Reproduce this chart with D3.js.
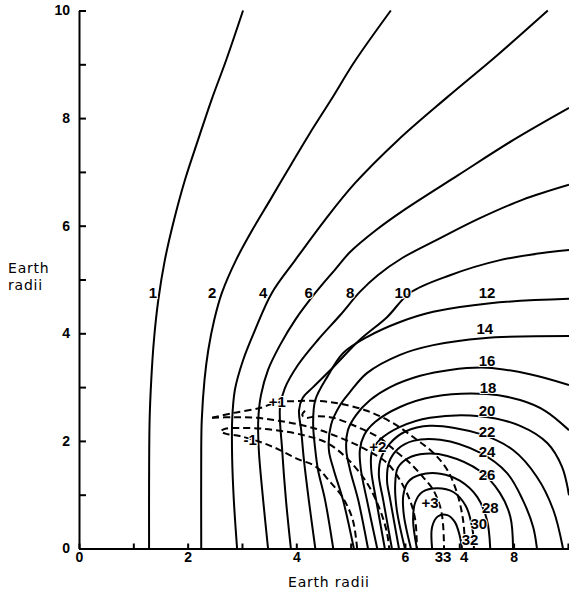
<!DOCTYPE html>
<html>
<head>
<meta charset="utf-8">
<script src="https://cdn.jsdelivr.net/npm/d3@7"></script>
<style>
  body { margin: 0; background: #fff; }
  svg { display: block; }
</style>
</head>
<body>
<svg id="chart" width="569" height="595"></svg>
<script>
// Field-line traces, each point is [radial distance, height] in Earth radii.
const line1  = [[1.29,0],[1.29,1.20],[1.30,2.39],[1.33,3.13],[1.38,3.88],[1.46,4.62],[1.58,5.36],[1.75,6.11],[1.95,6.85],[2.19,7.59],[2.44,8.34],[2.71,9.08],[3.02,10.0]];
const line2  = [[2.25,0],[2.25,1.83],[2.26,2.39],[2.31,3.13],[2.38,3.69],[2.49,4.25],[2.63,4.75],[2.89,5.36],[3.19,5.92],[3.52,6.48],[3.90,7.13],[4.25,7.72],[4.64,8.34],[5.08,9.06],[5.74,10.0]];
const line4  = [[2.91,0],[2.85,0.90],[2.82,1.65],[2.82,2.39],[2.87,2.95],[3.02,3.50],[3.24,4.06],[3.55,4.75],[3.98,5.36],[4.53,6.11],[5.08,6.79],[5.87,7.59],[6.78,8.39],[7.70,9.17],[8.63,10.0]];
const line6  = [[3.48,0],[3.39,0.90],[3.31,1.83],[3.30,2.39],[3.35,2.85],[3.48,3.32],[3.70,3.78],[3.98,4.25],[4.35,4.75],[4.71,5.18],[4.99,5.51],[5.47,5.92],[5.98,6.29],[6.98,6.94],[7.99,7.59],[9.02,8.19]];
const line8  = [[3.90,0],[3.81,0.90],[3.74,1.83],[3.70,2.63],[3.79,2.98],[4.03,3.41],[4.40,3.88],[4.81,4.34],[5.17,4.77],[5.50,5.08],[5.95,5.40],[6.65,5.77],[7.38,6.14],[8.16,6.48],[9.02,6.76]];
const line10 = [[4.35,0],[4.23,0.90],[4.14,1.65],[4.09,2.20],[4.05,2.57],[4.12,2.80],[4.31,3.00],[4.68,3.37],[5.17,3.88],[5.67,4.30],[6.09,4.75],[6.83,5.08],[7.75,5.36],[8.67,5.51],[9.02,5.55]];
const line12 = [[4.68,0],[4.53,0.90],[4.40,1.46],[4.35,1.83],[4.31,2.33],[4.35,2.76],[4.57,3.19],[4.86,3.63],[5.30,3.93],[5.91,4.21],[6.52,4.40],[7.57,4.56],[9.02,4.64]];
const line14 = [[5.06,0],[4.86,0.90],[4.69,1.46],[4.60,1.83],[4.64,2.30],[4.81,2.67],[4.99,2.91],[5.30,3.26],[5.91,3.60],[6.52,3.78],[7.44,3.91],[9.02,3.95]];
const line16 = [[5.32,0],[5.14,0.90],[4.99,1.46],[4.92,1.83],[4.95,2.20],[5.10,2.48],[5.36,2.76],[5.73,3.00],[6.28,3.21],[6.83,3.32],[7.51,3.36],[8.30,3.24],[9.02,3.04]];
const line18 = [[5.49,0],[5.30,0.90],[5.19,1.46],[5.17,1.83],[5.25,2.11],[5.45,2.35],[5.91,2.63],[6.52,2.82],[7.51,2.87],[8.12,2.76],[8.58,2.56],[9.02,2.20]];
const line20 = [[5.63,0],[5.47,0.90],[5.38,1.46],[5.39,1.79],[5.54,2.02],[5.91,2.26],[6.46,2.43],[7.38,2.46],[8.12,2.28],[8.62,1.96],[8.89,1.52],[9.02,0.99]];
const line22 = [[5.76,0],[5.60,0.90],[5.52,1.37],[5.56,1.68],[5.73,1.96],[6.00,2.17],[6.46,2.28],[7.38,2.13],[7.99,1.83],[8.43,1.33],[8.73,0.72],[8.91,0]];
const line24 = [[5.89,0],[5.73,0.90],[5.67,1.27],[5.71,1.61],[5.87,1.85],[6.15,2.00],[6.65,2.02],[7.38,1.78],[7.88,1.40],[8.17,0.90],[8.36,0.40],[8.43,0]];
const line26 = [[6.00,0],[5.85,0.72],[5.82,1.18],[5.87,1.50],[6.06,1.68],[6.37,1.76],[6.78,1.72],[7.38,1.44],[7.75,1.03],[7.94,0.59],[7.99,0]];
const line28 = [[6.11,0],[5.98,0.62],[5.97,0.99],[6.06,1.24],[6.28,1.37],[6.65,1.39],[7.01,1.26],[7.33,0.96],[7.51,0.53],[7.57,0]];
const line30 = [[6.22,0],[6.15,0.53],[6.19,0.86],[6.32,1.05],[6.59,1.12],[6.89,1.05],[7.12,0.79],[7.24,0.38],[7.27,0]];
const line32 = [[6.50,0],[6.50,0.40],[6.61,0.60],[6.78,0.62],[6.92,0.49],[7.01,0.23],[7.05,0]];

// Dashed contours of the field change.
const dashPlus1  = [[2.45,2.43],[2.84,2.52],[3.33,2.61],[3.65,2.72],[4.00,2.74],[4.44,2.74],[4.81,2.69],[5.30,2.56],[5.78,2.33],[6.22,2.02],[6.52,1.78],[6.78,1.46],[6.96,1.03],[7.07,0.53],[7.11,0]];
const dashInner  = [[2.45,2.43],[2.84,2.44],[3.28,2.43],[3.70,2.37],[4.07,2.30],[4.38,2.22],[4.68,2.11],[5.04,1.96],[5.30,1.83],[5.67,1.59],[5.91,1.27],[6.09,0.90],[6.19,0.53],[6.22,0]];
const dashMinus1 = [[5.12,0],[5.04,0.53],[4.86,0.94],[4.62,1.24],[4.35,1.53],[4.03,1.66],[3.70,1.83],[3.39,1.96],[2.96,2.09],[2.71,2.13],[2.61,2.18],[2.71,2.23],[2.96,2.24],[3.33,2.23],[3.76,2.18],[4.20,2.09],[4.57,1.96],[4.93,1.68],[5.30,1.22],[5.54,0.72],[5.67,0.29],[5.71,0]];
const dashPlus2  = [[4.16,2.56],[4.11,2.48],[4.18,2.43],[4.38,2.46],[4.68,2.43],[5.12,2.26],[5.54,2.05],[5.85,1.79],[6.09,1.59],[6.33,1.33],[6.52,1.09],[6.65,0.77],[6.70,0.47],[6.72,0]];

// Contour labels: text and position in Earth radii.
const labelText = ["1","2","4","6","8","10","12","14","16","18","20","22","24","26","28","30","32","33","4","+1","-1","+2","+3"];
const labelX    = [1.36,2.45,3.39,4.23,4.99,5.96,7.51,7.47,7.51,7.53,7.51,7.51,7.51,7.51,7.57,7.36,7.20,6.70,7.09,3.65,3.15,5.50,6.46];
const labelY    = [4.75,4.75,4.75,4.75,4.75,4.75,4.75,4.08,3.49,3.00,2.56,2.17,1.81,1.38,0.77,0.47,0.16,-0.14,-0.14,2.74,2.02,1.89,0.85];

// Axis ticks.
const xTickValues = [0,1,2,3,4,5,6,7,8,9];
const xTickLabels = [0,2,4,6,8];
const yTickValues = [0,1,2,3,4,5,6,7,8,9,10];
const yTickLabels = [0,2,4,6,8,10];

const solidLines  = [line1,line2,line4,line6,line8,line10,line12,line14,line16,line18,line20,line22,line24,line26,line28,line30,line32];
const dashedLines = [dashPlus1,dashInner,dashMinus1,dashPlus2];

const svg = d3.select("#chart");
const x = d3.scaleLinear().domain([0, 9.02]).range([79, 569]);
const y = d3.scaleLinear().domain([0, 10]).range([548.5, 10.5]);

const defs = svg.append("defs");
defs.append("clipPath").attr("id", "plot")
  .append("rect").attr("x", 79).attr("y", 0).attr("width", 490).attr("height", 549);

const lineGen = d3.line()
  .x(d => x(d[0]))
  .y(d => y(d[1]))
  .curve(d3.curveCatmullRom.alpha(0.5));

const plot = svg.append("g").attr("clip-path", "url(#plot)");

plot.selectAll("path.solid")
  .data(solidLines)
  .join("path")
  .attr("class", "solid")
  .attr("d", lineGen)
  .attr("fill", "none")
  .attr("stroke", "#000")
  .attr("stroke-width", 2);

plot.selectAll("path.dashed")
  .data(dashedLines)
  .join("path")
  .attr("class", "dashed")
  .attr("d", lineGen)
  .attr("fill", "none")
  .attr("stroke", "#000")
  .attr("stroke-width", 2)
  .attr("stroke-dasharray", "7,4");

// Labels sit on a white halo so the lines break around them.
svg.append("g")
  .selectAll("text")
  .data(labelText.map((t, i) => ({ t, x: labelX[i], y: labelY[i] })))
  .join("text")
  .attr("x", d => x(d.x))
  .attr("y", d => y(d.y))
  .attr("text-anchor", "middle")
  .attr("dominant-baseline", "central")
  .attr("font-family", "Liberation Sans Narrow, Liberation Sans, sans-serif")
  .attr("font-weight", "bold")
  .attr("font-size", 15)
  .attr("fill", "#000")
  .attr("stroke", "#fff")
  .attr("stroke-width", 2)
  .attr("paint-order", "stroke")
  .text(d => d.t);

// Axes
const xAxis = d3.axisBottom(x)
  .tickValues(xTickValues)
  .tickSizeInner(-5)
  .tickSizeOuter(0)
  .tickPadding(4)
  .tickFormat(d => xTickLabels.includes(d) ? d : "");

const yAxis = d3.axisLeft(y)
  .tickValues(yTickValues)
  .tickSizeInner(-7)
  .tickSizeOuter(0)
  .tickPadding(9)
  .tickFormat(d => yTickLabels.includes(d) ? d : "");

function styleAxis(g) {
  g.select(".domain").attr("stroke", "#000").attr("stroke-width", 2);
  g.selectAll(".tick line").attr("stroke", "#000").attr("stroke-width", 2);
  g.selectAll(".tick text")
    .attr("fill", "#000")
    .attr("font-family", "Liberation Sans, Arial, sans-serif")
    .attr("font-weight", "bold")
    .attr("font-size", 14);
}

svg.append("g").attr("transform", "translate(0,548.5)").call(xAxis).call(styleAxis);
svg.append("g").attr("transform", "translate(79,0)").call(yAxis).call(styleAxis);

// Axis titles
const titleStyle = t => t
  .attr("font-family", "DejaVu Sans, sans-serif")
  .attr("font-size", 14)
  .attr("letter-spacing", 0.8)
  .attr("fill", "#000");

svg.append("text").attr("x", 288).attr("y", 587).text("Earth radii").call(titleStyle);
svg.append("text").attr("x", 8).attr("y", 273).text("Earth").call(titleStyle);
svg.append("text").attr("x", 8).attr("y", 290).text("radii").call(titleStyle);
</script>
</body>
</html>
